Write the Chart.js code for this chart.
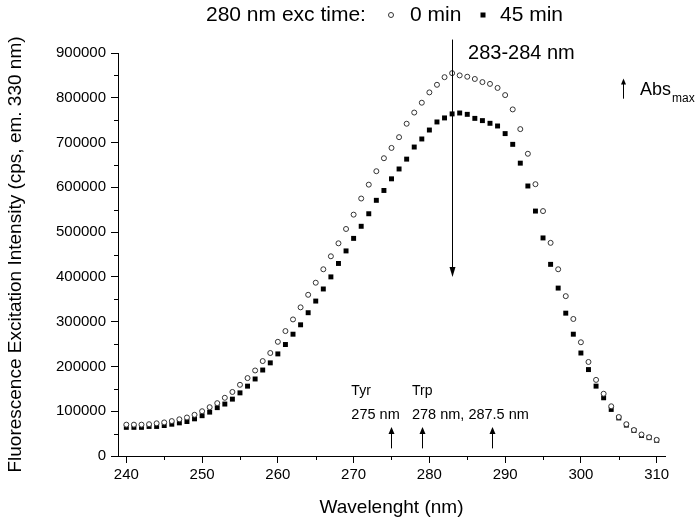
<!DOCTYPE html>
<html>
<head>
<meta charset="utf-8">
<script src="https://cdn.jsdelivr.net/npm/chart.js@4.4.1/dist/chart.umd.min.js"></script>
<style>
  html, body { margin: 0; padding: 0; background: #fff; }
  #wrap { width: 700px; height: 523px; }
</style>
</head>
<body>
<div id="wrap"><canvas id="c" width="700" height="523"></canvas></div>
<script>
const wavelengths = [];
for (let w = 240; w <= 310; w++) wavelengths.push(w);

// 0 min (open circles)
const exc0min = [
  70000, 70000, 70000, 71000, 73000, 75000, 78000, 82000, 86000, 92000,
  100000, 109000, 118000, 130000, 143000, 159000, 174000, 191000, 212000, 230000,
  255000, 279000, 305000, 332000, 360000, 387000, 417000, 446000, 475000, 507000,
  539000, 575000, 606000, 636000, 665000, 688000, 712000, 742000, 767000, 789000,
  812000, 829000, 846000, 855000, 850000, 847000, 842000, 835000, 831000, 822000,
  806000, 774000, 730000, 675000, 607000, 547000, 476000, 417000, 357000, 306000,
  254000, 210000, 170000, 139000, 111000, 87000, 71000, 58000, 48000, 42000, 36000
];

// 45 min (filled squares)
const exc45min = [
  64000, 64000, 64000, 66000, 66000, 68000, 71000, 74000, 77000, 83000,
  90000, 98000, 108000, 116000, 127000, 141000, 156000, 172000, 192000, 208000,
  228000, 249000, 272000, 293000, 320000, 346000, 373000, 400000, 430000, 458000,
  486000, 513000, 541000, 571000, 593000, 619000, 641000, 663000, 690000, 708000,
  728000, 746000, 755000, 764000, 766000, 763000, 754000, 749000, 743000, 737000,
  720000, 696000, 654000, 603000, 547000, 487000, 428000, 375000, 319000, 272000,
  230000, 193000, 156000, 130000, 104000, 85000, 69000, 57000, 46000, 41000, 35000
];

const xTicks = [240, 250, 260, 270, 280, 290, 300, 310];
const xMinorTicks = [245, 255, 265, 275, 285, 295, 305];
const yTicks = [0, 100000, 200000, 300000, 400000, 500000, 600000, 700000, 800000, 900000];
const yMinorTicks = [50000, 150000, 250000, 350000, 450000, 550000, 650000, 750000, 850000];

// absorption maxima marked with small arrows
const absMax = [275, 279, 288.2];
const peakLine = 283;

const FONT = '"Liberation Sans", Arial, sans-serif';

function arrow(ctx, x, yFrom, yTo, half, headLen) {
  const dir = yTo < yFrom ? 1 : -1;
  ctx.beginPath();
  ctx.moveTo(x, yFrom);
  ctx.lineTo(x, yTo + dir * headLen * 0.5);
  ctx.stroke();
  ctx.beginPath();
  ctx.moveTo(x, yTo);
  ctx.lineTo(x - half, yTo + dir * headLen);
  ctx.lineTo(x + half, yTo + dir * headLen);
  ctx.closePath();
  ctx.fill();
}

const annot = {
  id: 'annot',
  afterDraw(chart) {
    const {ctx, scales: {x, y}} = chart;
    ctx.save();
    ctx.strokeStyle = '#000';
    ctx.fillStyle = '#000';
    ctx.lineWidth = 1;

    // minor ticks
    ctx.beginPath();
    xMinorTicks.forEach(v => {
      const px = Math.round(x.getPixelForValue(v)) + 0.5;
      ctx.moveTo(px, y.bottom);
      ctx.lineTo(px, y.bottom + 4);
    });
    yMinorTicks.forEach(v => {
      const py = Math.round(y.getPixelForValue(v)) + 0.5;
      ctx.moveTo(x.left, py);
      ctx.lineTo(x.left - 4, py);
    });
    ctx.stroke();

    // legend
    ctx.font = '21px ' + FONT;
    ctx.textBaseline = 'middle';
    ctx.textAlign = 'left';
    ctx.fillText('280 nm exc time:', 206, 15);
    ctx.beginPath();
    ctx.arc(391, 15, 2.5, 0, Math.PI * 2);
    ctx.strokeStyle = '#333';
    ctx.stroke();
    ctx.strokeStyle = '#000';
    ctx.fillText(chart.data.datasets[0].label, 410, 15);
    ctx.fillRect(480.5, 12.5, 5, 5);
    ctx.fillText(chart.data.datasets[1].label, 500, 15);

    // peak line 283-284 nm
    const px = Math.round(x.getPixelForValue(peakLine)) + 0.5;
    arrow(ctx, px, y.getPixelForValue(930000), y.getPixelForValue(400000), 3, 10);
    ctx.font = '20px ' + FONT;
    ctx.fillText('283-284 nm', x.getPixelForValue(285.1), y.getPixelForValue(899000));

    // Abs max legend
    const ax = Math.round(x.getPixelForValue(305.6)) + 0.5;
    arrow(ctx, ax, y.getPixelForValue(798000), y.getPixelForValue(843000), 2.5, 6);
    ctx.font = '18px ' + FONT;
    const absX = x.getPixelForValue(307.8);
    ctx.fillText('Abs', absX, y.getPixelForValue(818000));
    const absW = ctx.measureText('Abs').width;
    ctx.font = '12px ' + FONT;
    ctx.fillText('max', absX + absW + 1, y.getPixelForValue(797000));

    // Tyr / Trp arrows
    absMax.forEach(v => {
      const bx = Math.round(x.getPixelForValue(v)) + 0.5;
      arrow(ctx, bx, y.getPixelForValue(17000), y.getPixelForValue(65000), 3, 7);
    });
    ctx.font = '14px ' + FONT;
    ctx.fillText('Tyr', x.getPixelForValue(269.7), y.getPixelForValue(144000));
    ctx.fillText('Trp', x.getPixelForValue(277.7), y.getPixelForValue(144000));
    ctx.font = '14.5px ' + FONT;
    ctx.fillText('275 nm', x.getPixelForValue(269.7), y.getPixelForValue(91000));
    ctx.fillText('278 nm, 287.5 nm', x.getPixelForValue(277.7), y.getPixelForValue(91000));
    ctx.restore();
  }
};

new Chart(document.getElementById('c'), {
  type: 'line',
  data: {
    labels: wavelengths,
    datasets: [
      {
        label: '0 min',
        data: wavelengths.map((w, i) => ({x: w, y: exc0min[i]})),
        showLine: false,
        pointStyle: 'circle',
        pointRadius: 2.5,
        pointBorderWidth: 1,
        pointBorderColor: '#333',
        pointBackgroundColor: '#fff'
      },
      {
        label: '45 min',
        data: wavelengths.map((w, i) => ({x: w, y: exc45min[i]})),
        showLine: false,
        pointStyle: 'rect',
        pointRadius: 3.5,
        pointBorderWidth: 0,
        pointBorderColor: '#000',
        pointBackgroundColor: '#000'
      }
    ]
  },
  options: {
    responsive: false,
    animation: false,
    events: [],
    layout: { padding: { top: 53, right: 35, left: 0, bottom: 0 } },
    plugins: { legend: { display: false }, tooltip: { enabled: false } },
    scales: {
      x: {
        type: 'linear',
        min: 238.9,
        max: 311.1,
        afterBuildTicks: s => { s.ticks = xTicks.map(v => ({value: v})); },
        afterFit: s => { s.height = 67; },
        grid: { drawOnChartArea: false, tickLength: 7, color: '#000' },
        border: { color: '#000', width: 1 },
        ticks: { color: '#000', padding: 3, font: { family: FONT, size: 15 }, maxRotation: 0 },
        title: {
          display: true,
          text: 'Wavelenght (nm)',
          color: '#000',
          font: { family: FONT, size: 19 },
          padding: { top: 4, bottom: 4 }
        }
      },
      y: {
        min: 0,
        max: 900000,
        afterBuildTicks: s => { s.ticks = yTicks.map(v => ({value: v})); },
        afterFit: s => { s.width = 118; },
        grid: { drawOnChartArea: false, tickLength: 7, color: '#000' },
        border: { color: '#000', width: 1 },
        ticks: { color: '#000', padding: 5, font: { family: FONT, size: 15 }, callback: v => String(v) },
        title: {
          display: true,
          text: 'Fluorescence Excitation Intensity (cps, em. 330 nm)',
          color: '#000',
          font: { family: FONT, size: 19 },
          padding: { top: 4, bottom: 4 }
        }
      }
    }
  },
  plugins: [annot]
});
</script>
</body>
</html>
